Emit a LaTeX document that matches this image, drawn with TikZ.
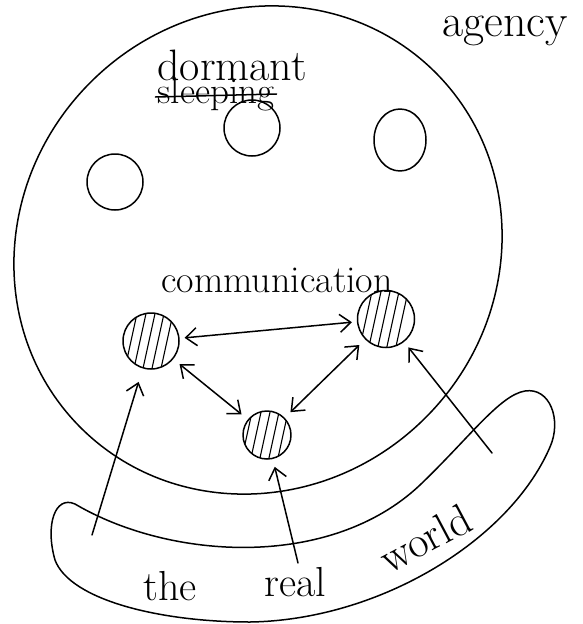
\documentclass[tikz,border=0pt]{standalone}
\usetikzlibrary{arrows.meta,shapes.geometric}
\begin{document}
\begin{tikzpicture}[x=1pt,y=-1pt,
  ink/.style={line width=1.5pt, line cap=round, line join=round},
  dormantcircle/.style={circle, draw, ink, minimum size=56pt, inner sep=0pt},
  hatched/.style={circle, draw, ink, inner sep=0pt,
    path picture={\foreach \d in {-20,-11,-2,7,16}
      \draw[line width=1.1pt] ([shift={(\d pt-7pt,-32pt)}]path picture bounding box.center) -- ++(14pt,64pt);}},
  barb/.tip={Straight Barb[length=11pt,width=18pt,line width=1.5pt]},
  link/.style={ink, barb-barb},
  feed/.style={ink, -barb},
  hand/.style={inner sep=0pt, anchor=base}
]
\useasboundingbox (0,0) rectangle (582,624);

% agency sphere
\coordinate (sc) at (258,250);
\draw[ink, rotate around={45:(sc)}] (sc) ellipse [x radius=251, y radius=237];

% real world band
\draw[ink] (75,504) .. controls (170,560) and (330,570) .. (420,485)
  .. controls (470,437) and (500,395) .. (525,391)
  .. controls (550,387) and (562,420) .. (550,447)
  .. controls (510,540) and (380,620) .. (250,622)
  .. controls (160,622) and (70,600) .. (55,560)
  .. controls (45,525) and (55,495) .. cycle;

% dormant circles
\node[dormantcircle] (e1) at (115,182) {};
\node[dormantcircle] (e2) at (252,128) {};
\node[ellipse, draw, ink, minimum width=52pt, minimum height=62pt, inner sep=0pt] (e3) at (400,140) {};

% communicating circles
\node[hatched, minimum size=56pt] (L) at (151,341) {};
\node[hatched, minimum size=57pt] (R) at (386,319) {};
\node[hatched, minimum size=48pt] (B) at (267,435) {};

% texts
\node[hand, font=\fontsize{46}{46}\selectfont] (agency) at (505,36) {agency};
\node[hand, font=\fontsize{44}{44}\selectfont] (dormant) at (232,80) {dormant};
\node[hand, font=\fontsize{37}{37}\selectfont] (sleep) at (216,103) {sleeping};
\draw[ink] ([shift={(-2pt,6pt)}]sleep.base west) -- ([shift={(2pt,9pt)}]sleep.base east);
\node[hand, font=\fontsize{38}{38}\selectfont] (comm) at (277,292) {communication};
\node[hand, font=\fontsize{42}{42}\selectfont] (the) at (170,600) {the};
\node[hand, font=\fontsize{42}{42}\selectfont] (real) at (295,596) {real};
\node[font=\fontsize{44}{44}\selectfont, rotate=28, inner sep=0pt] (world) at (425,538) {world};

% communication links
\draw[link, shorten <=5pt, shorten >=5pt] (L) -- (R);
\draw[link, shorten <=8pt, shorten >=8pt] (L) -- (B);
\draw[link, shorten <=8pt, shorten >=8pt] (B) -- (R);

% links from the real world
\coordinate (w1) at (92,535);
\coordinate (w2) at (298,563);
\coordinate (w3) at (492,453);
\draw[feed, shorten >=14pt] (w1) -- (L);
\draw[feed, shorten >=8pt] (w2) -- (B);
\draw[feed, shorten >=7pt] (w3) -- (R);
\end{tikzpicture}
\end{document}
